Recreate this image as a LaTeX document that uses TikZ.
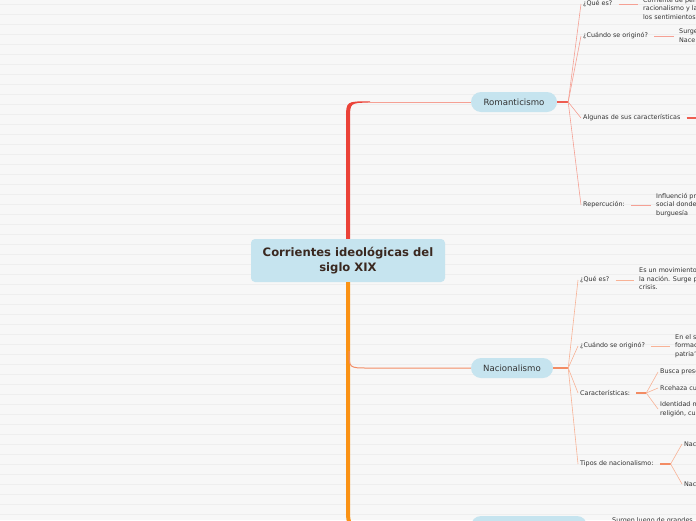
\documentclass[tikz,border=0pt]{standalone}
\usepackage{fontspec}
\setmainfont{DejaVu Sans}
\usetikzlibrary{positioning,calc}
\definecolor{Paper}{RGB}{247,247,247}
\definecolor{PaperRule}{RGB}{238,238,238}
\definecolor{Topic}{RGB}{198,228,239}
\definecolor{Ink}{RGB}{51,51,51}
\definecolor{RootInk}{RGB}{58,40,32}
\definecolor{RedTrunk}{RGB}{235,66,56}
\definecolor{RedTwig}{RGB}{245,160,148}
\definecolor{RedStem}{RGB}{238,92,80}
\definecolor{OrangeTrunk}{RGB}{250,146,20}
\definecolor{OrangeTwig}{RGB}{248,178,150}
\definecolor{OrangeStem}{RGB}{243,140,100}
\tikzset{
  rootbox/.style={fill=Topic,rounded corners=4pt,minimum width=194pt,minimum height=43pt,inner sep=0pt,align=center,text=RootInk,font=\bfseries\fontsize{11.6}{15}\selectfont},
  topicbox/.style={fill=Topic,rounded corners=10pt,minimum height=20pt,inner sep=0pt,text=Ink,font=\fontsize{8.6}{10}\selectfont},
  leaf/.style={anchor=west,inner xsep=2pt,inner ysep=0pt,align=left,text=Ink,font=\fontsize{6.4}{8.5}\selectfont},
  redtwig/.style={draw=RedTwig,line width=0.6pt},
  orangetwig/.style={draw=OrangeTwig,line width=0.6pt},
  redstem/.style={draw=RedStem,line width=1.3pt},
  orangestem/.style={draw=OrangeStem,line width=1.3pt},
  gap/.style={shorten <=4pt,shorten >=3pt}
}
\begin{document}
\begin{tikzpicture}[x=1pt,y=-1pt]
\useasboundingbox (0,0) rectangle (696,520);
\clip (0,0) rectangle (696,520);
\fill[Paper] (0,0) rectangle (696,520);
\foreach \k in {0,...,51} \draw[PaperRule,line width=0.8pt] (0,4.5+10*\k) -- (696,4.5+10*\k);

% main topics
\node[rootbox] (root) at (348,260.5) {Corrientes ideológicas del\\siglo XIX};
\node[topicbox,minimum width=86pt] (romant) at (514,102) {Romanticismo};
\node[topicbox,minimum width=82pt] (nacion) at (512,368) {Nacionalismo};
\node[topicbox,minimum width=116pt] (tercero) at (529,526) {};

% trunks
\coordinate (rknee) at (root.north |- romant.west);
\coordinate (nknee) at (root.south |- nacion.west);
\coordinate (tknee) at (root.south |- tercero.west);
\fill[RedTrunk] ($(root.north)+(-2,0)$) -- ($(rknee)+(-2,17)$) .. controls ($(rknee)+(-2,-0.8)$) .. ($(rknee)+(22,-0.6)$) -- ($(rknee)+(22,0.6)$) .. controls ($(rknee)+(2,0.8)$) .. ($(rknee)+(2,17)$) -- ($(root.north)+(2,0)$) -- cycle;
\draw[RedTwig,line width=1pt] ($(rknee)+(20,0)$) -- (romant.west);
\fill[OrangeTrunk] ($(root.south)+(-2,0)$) -- ($(tknee)+(-2,-17)$) .. controls ($(tknee)+(-2,0.8)$) .. ($(tknee)+(22,0.6)$) -- ($(tknee)+(22,-0.6)$) .. controls ($(tknee)+(2,-0.8)$) .. ($(tknee)+(2,-17)$) -- ($(root.south)+(2,0)$) -- cycle;
\draw[OrangeTwig,line width=1pt] ($(tknee)+(20,0)$) -- (tercero.west);
\draw[OrangeStem,line width=1pt] ($(nknee)+(1,-17)$) .. controls ($(nknee)+(1,0)$) .. ($(nknee)+(20,0)$) -- (nacion.west);

% Romanticismo
\coordinate (rfan) at ($(romant.east)+(11,0)$);
\draw[redstem] (romant.east) -- (rfan);
\node[leaf] (rque) at (581,4) {¿Qué es?};
\node[leaf] (rcuando) at (581,36) {¿Cuándo se originó?};
\node[leaf] (ralgunas) at (581,118) {Algunas de sus características};
\node[leaf] (rrepe) at (581,205) {Repercución:};
\foreach \c in {rque,rcuando,ralgunas,rrepe} \draw[redtwig] (rfan) -- (\c.west);
\node[leaf] (rquev) at (641,8.5) {Corriente de pen\\racionalismo y la\\los sentimientos};
\node[leaf] (rcuandov) at (677,35.5) {Surge\\Nace};
\node[leaf] (rrepev) at (654,205) {Influenció pr\\social donde\\burguesía};
\coordinate (ralgfin) at (710,118);
\draw[redtwig,gap] (rque.east) -- (rque.east -| rquev.west);
\draw[redtwig,gap] (rcuando.east) -- (rcuando.east -| rcuandov.west);
\draw[redtwig,gap] (rrepe.east) -- (rrepe.east -| rrepev.west);
\draw[redstem,line width=1.8pt,shorten <=4pt] (ralgunas.east) -- (ralgfin);

% Nacionalismo
\coordinate (nfan) at ($(nacion.east)+(15,0)$);
\draw[orangestem] (nacion.east) -- (nfan);
\node[leaf] (nque) at (578,280) {¿Qué es?};
\node[leaf] (ncuando) at (578,346) {¿Cuándo se originó?};
\node[leaf] (ncarac) at (578,393) {Características:};
\node[leaf] (ntipos) at (578,464) {Tipos de nacionalismo:};
\foreach \c in {nque,ncuando,ncarac,ntipos} \draw[orangetwig] (nfan) -- (\c.west);
\node[leaf] (nquev) at (637,279) {Es un movimiento\\la nación. Surge p\\crisis.};
\node[leaf] (ncuandov) at (673,346) {En el s\\formac\\patria"};
\draw[orangetwig,gap] (nque.east) -- (nque.east -| nquev.west);
\draw[orangetwig,gap] (ncuando.east) -- (ncuando.east -| ncuandov.west);
\coordinate (kfan) at ($(ncarac.east)+(14,0)$);
\draw[orangestem,line width=2pt,shorten <=4pt] (ncarac.east) -- (kfan);
\node[leaf] (nbusca) at (658,372) {Busca prese};
\node[leaf] (nrechaza) at (658,388) {Rcehaza cu};
\node[leaf] (niden) at (658,409) {Identidad n\\religión, cu};
\foreach \c in {nbusca,nrechaza,niden} \draw[orangetwig] (kfan) -- (\c.west);
\coordinate (tfan) at ($(ntipos.east)+(15,0)$);
\draw[orangestem,shorten <=4.5pt] (ntipos.east) -- (tfan);
\node[leaf] (ntipo1) at (682,444) {Nac};
\node[leaf] (ntipo2) at (682,484) {Nac};
\foreach \c in {ntipo1,ntipo2} \draw[orangetwig] (tfan) -- (\c.west);

% third topic
\node[leaf] (tsurgen) at (610,521) {Surgen luego de grandes};
\end{tikzpicture}
\end{document}
